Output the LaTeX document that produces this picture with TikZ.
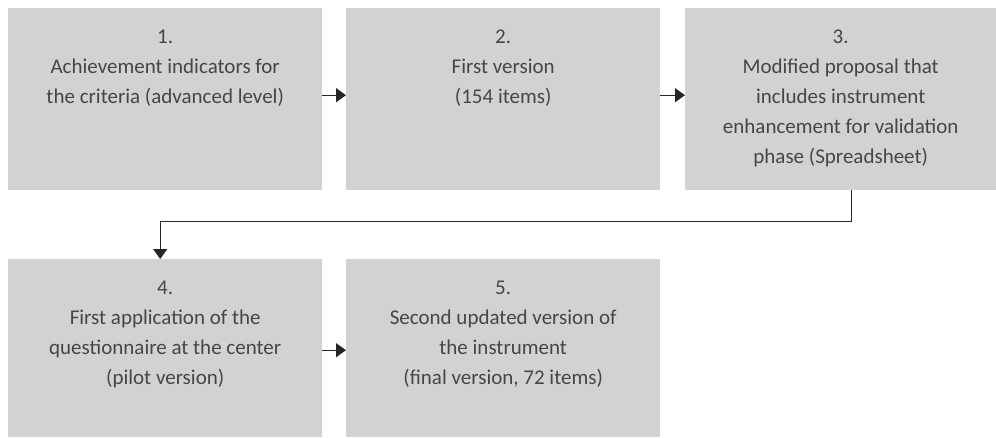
\documentclass[tikz,border=0pt]{standalone}
\usepackage{fontspec}
\setmainfont{Carlito}
\usetikzlibrary{arrows.meta}
\definecolor{boxgray}{HTML}{D1D2D4}
\definecolor{inkgray}{HTML}{464646}
\definecolor{linegray}{HTML}{262626}
\tikzset{
  stepbox/.style={fill=boxgray, draw=none, inner sep=0pt, anchor=north west},
  steptext/.style={anchor=north, inner sep=0pt, align=center, text=inkgray,
    font=\fontsize{21}{30}\selectfont},
  flow/.style={draw=linegray, line width=1.4pt,
    -{Triangle[length=10pt, width=14pt]}},
}
\begin{document}
\begin{tikzpicture}[x=1pt, y=1pt]
\useasboundingbox (0,0) rectangle (996,-437);

% process boxes
\node[stepbox, minimum width=314pt, minimum height=182pt] (b1) at (8,-8) {};
\node[stepbox, minimum width=314pt, minimum height=182pt] (b2) at (346,-8) {};
\node[stepbox, minimum width=311pt, minimum height=182pt] (b3) at (685,-8) {};
\node[stepbox, minimum width=314pt, minimum height=178pt] (b4) at (8,-259) {};
\node[stepbox, minimum width=314pt, minimum height=178pt] (b5) at (346,-259) {};

% box captions
\node[steptext] (t1) at ([yshift=-22pt]b1.north) {1.\\Achievement indicators for\\the criteria (advanced level)};
\node[steptext] (t2) at ([yshift=-22pt]b2.north) {2.\\First version\\(154 items)};
\node[steptext] (t3) at ([yshift=-22pt]b3.north) {3.\\Modified proposal that\\includes instrument\\enhancement for validation\\phase (Spreadsheet)};
\node[steptext] (t4) at ([yshift=-22pt]b4.north) {4.\\First application of the\\questionnaire at the center\\(pilot version)};
\node[steptext] (t5) at ([yshift=-22pt]b5.north) {5.\\Second updated version of\\the instrument\\(final version, 72 items)};

% connectors
\draw[flow] ([yshift=4pt]b1.east) -- ([yshift=4pt]b2.west);
\draw[flow] ([yshift=4pt]b2.east) -- ([yshift=4pt]b3.west);
\draw[flow] ([xshift=10.5pt]b3.south) -- ++(0,-31) -| ([xshift=-5pt]b4.north);
\draw[flow] ([yshift=-2pt]b4.east) -- ([yshift=-2pt]b5.west);
\end{tikzpicture}
\end{document}
